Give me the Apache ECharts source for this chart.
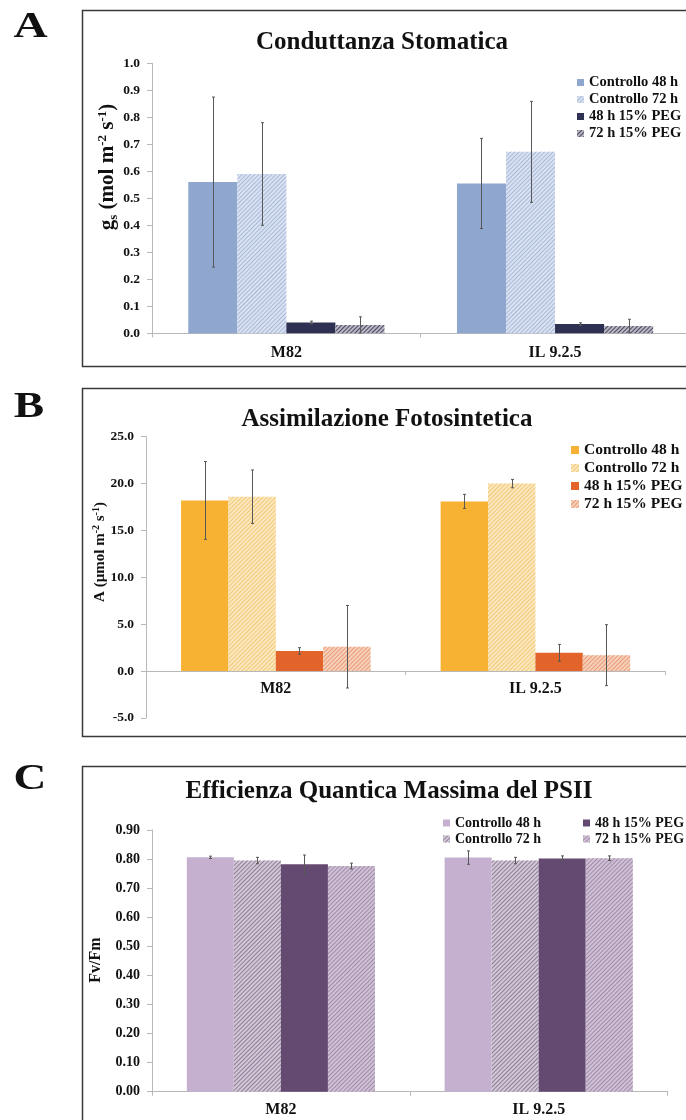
<!DOCTYPE html>
<html>
<head>
<meta charset="utf-8">
<script src="https://cdn.jsdelivr.net/npm/echarts@6/dist/echarts.min.js"></script>
<style>
  html, body { margin: 0; padding: 0; background: #fff; }
  #chart { width: 686px; height: 1120px; }
</style>
</head>
<body>
<div id="chart"></div>
<script>
// Genotypes and treatments shared by the three panels
const categories = ['M82', 'IL 9.2.5'];
const seriesNames = ['Controllo 48 h', 'Controllo 72 h', '48 h 15% PEG', '72 h 15% PEG'];

// A - Conduttanza stomatica, gs (mol m-2 s-1): one row per treatment, one value per genotype
const gsMean = [[0.560, 0.555], [0.590, 0.672], [0.040, 0.034], [0.031, 0.027]];
const gsErr  = [[0.315, 0.167], [0.190, 0.187], [0.005, 0.005], [0.030, 0.025]];
const gsAxis = [0, 1.0, 0.1];          // min, max, interval

// B - Assimilazione fotosintetica, A (µmol m-2 s-1)
const aMean = [[18.2, 18.1], [18.6, 20.0], [2.15, 1.95], [2.6, 1.7]];
const aErr  = [[4.15, 0.75], [2.85, 0.45], [0.35, 0.90], [4.40, 3.25]];
const aAxis = [-5, 25, 5];

// C - Efficienza quantica massima del PSII, Fv/Fm
const fvMean = [[0.806, 0.805], [0.795, 0.795], [0.782, 0.802], [0.776, 0.803]];
const fvErr  = [[0.004, 0.023], [0.011, 0.011], [0.032, 0.009], [0.010, 0.008]];
const fvAxis = [0, 0.9, 0.1];

const SERIF = '"Liberation Serif", "Times New Roman", serif';
const INK = '#111';
const AXIS_GREY = '#b8b8b8';
const GAP = 0.27;

// fine diagonal hatching used for the 72 h bars
function hatch(stripe) {
  return {
    symbol: 'rect', symbolSize: 1,
    dashArrayX: [1, 0], dashArrayY: [1, 1.8],
    rotation: -Math.PI / 4, color: stripe
  };
}

const palettes = {
  gs: [
    { color: '#8FA6CF' },
    { color: '#DAE2F1', decal: hatch('#A8B9DA') },
    { color: '#2F3152' },
    { color: '#B9B7C4', decal: hatch('#4A4A60') }
  ],
  a: [
    { color: '#F7B234' },
    { color: '#FBE8BE', decal: hatch('#F2C878') },
    { color: '#E2642B' },
    { color: '#F6D0BA', decal: hatch('#EA9C76') }
  ],
  fv: [
    { color: '#C5B1CF' },
    { color: '#D2C7D7', decal: hatch('#8F7F97') },
    { color: '#644A71' },
    { color: '#CFC0D5', decal: hatch('#A28CAA') }
  ]
};

// error bar drawn at the centre of bar k inside its category band
function errRenderer(k) {
  return function (params, api) {
    const i = api.value(0), v = api.value(1), e = api.value(2);
    const c = api.coord([i, v]);
    const band = api.size([1, 0])[0];
    const bw = band * (1 - GAP) / 4;
    const x = Math.round(c[0] + (k - 1.5) * bw) + 0.5;
    const y1 = api.coord([i, v + e])[1];
    const y2 = api.coord([i, v - e])[1];
    const cap = 1.5;
    const st = { stroke: '#585858', lineWidth: 1 };
    return {
      type: 'group',
      children: [
        { type: 'line', shape: { x1: x, y1: y1, x2: x, y2: y2 }, style: st },
        { type: 'line', shape: { x1: x - cap, y1: y1, x2: x + cap, y2: y1 }, style: st },
        { type: 'line', shape: { x1: x - cap, y1: y2, x2: x + cap, y2: y2 }, style: st }
      ]
    };
  };
}

function panelSeries(idx, key, means, errs) {
  const out = [];
  seriesNames.forEach(function (n, k) {
    out.push({
      type: 'bar', name: key + '|' + n,
      xAxisIndex: idx, yAxisIndex: idx,
      data: means[k],
      barGap: '0%', barCategoryGap: (GAP * 100) + '%',
      itemStyle: palettes[key][k],
      emphasis: { disabled: true },
      z: 2
    });
  });
  seriesNames.forEach(function (n, k) {
    out.push({
      type: 'custom',
      xAxisIndex: idx, yAxisIndex: idx,
      data: categories.map(function (c, i) { return [i, means[k][i], errs[k][i]]; }),
      encode: { x: 0, y: 1 },
      renderItem: errRenderer(k),
      silent: true, z: 5
    });
  });
  return out;
}

// the category axis sits on the value 0 of its grid
function xAxisFor(idx, margin, range, gridHeight) {
  const lift = gridHeight * (0 - range[0]) / (range[1] - range[0]);
  return {
    type: 'category', gridIndex: idx, data: categories,
    offset: -lift,
    axisLine: { show: true, onZero: false, lineStyle: { color: AXIS_GREY, width: 1 } },
    axisTick: { show: true, length: 4, lineStyle: { color: AXIS_GREY } },
    axisLabel: { margin: margin, fontFamily: SERIF, fontWeight: 'bold', fontSize: 16, color: INK },
    splitLine: { show: false }
  };
}

function yAxisFor(idx, range, digits, fs) {
  return {
    type: 'value', gridIndex: idx,
    min: range[0], max: range[1], interval: range[2],
    axisLine: { show: true, lineStyle: { color: AXIS_GREY, width: 1 } },
    axisTick: { show: true, length: 5, lineStyle: { color: AXIS_GREY } },
    axisLabel: {
      margin: 12, fontFamily: SERIF, fontWeight: 'bold', fontSize: fs, color: INK,
      formatter: function (v) { return v.toFixed(digits); }
    },
    splitLine: { show: false }
  };
}

function legendFor(names, left, top, fs, icon, lh) {
  return {
    data: names, orient: 'vertical', left: left, top: top, padding: 0,
    itemWidth: icon, itemHeight: icon, itemGap: 2, icon: 'rect',
    selectedMode: false,
    formatter: function (n) { return n.split('|')[1]; },
    textStyle: { fontFamily: SERIF, fontWeight: 'bold', fontSize: fs, color: INK, lineHeight: lh }
  };
}

function label(text, x, y, size, stretch) {
  return {
    type: 'text', x: x, y: y, silent: true, scaleX: stretch || 1,
    style: {
      text: text, fill: INK, font: 'bold ' + size + 'px ' + SERIF,
      textAlign: 'center', textVerticalAlign: 'middle', align: 'center', verticalAlign: 'middle'
    }
  };
}

function frame(y, h) {
  return {
    type: 'rect', silent: true,
    shape: { x: 82.5, y: y + 0.5, width: 700, height: h },
    style: { fill: 'none', stroke: '#3a3a3a', lineWidth: 1.5 }
  };
}

function unitRich(main, small) {
  const base = { fontFamily: SERIF, fontWeight: 'bold', fill: INK, color: INK };
  return {
    b: Object.assign({ fontSize: main, lineHeight: main + 3 }, base),
    sup: Object.assign({ fontSize: small, lineHeight: small, verticalAlign: 'top' }, base),
    sub: Object.assign({ fontSize: small, lineHeight: small, verticalAlign: 'bottom' }, base)
  };
}

function axisTitle(text, x, y, main, small) {
  return {
    type: 'text', x: x, y: y, rotation: Math.PI / 2, silent: true,
    style: {
      text: text, rich: unitRich(main, small),
      textAlign: 'center', textVerticalAlign: 'middle', align: 'center', verticalAlign: 'middle'
    }
  };
}

const grids = [
  { left: 152, top: 63.3, width: 537.4, height: 270, outerBoundsMode: 'none' },
  { left: 146, top: 436.7, width: 519.2, height: 281.3, outerBoundsMode: 'none' },
  { left: 152, top: 830, width: 515.6, height: 261.7, outerBoundsMode: 'none' }
];

const chart = echarts.init(document.getElementById('chart'), null, { renderer: 'canvas' });

chart.setOption({
  backgroundColor: '#ffffff',
  animation: false,
  grid: grids,
  xAxis: [
    xAxisFor(0, 12, gsAxis, grids[0].height),
    xAxisFor(1, 10, aAxis, grids[1].height),
    xAxisFor(2, 10, fvAxis, grids[2].height)
  ],
  yAxis: [yAxisFor(0, gsAxis, 1, 13.5), yAxisFor(1, aAxis, 1, 13.5), yAxisFor(2, fvAxis, 2, 14)],
  legend: [
    legendFor(seriesNames.map(function (n) { return 'gs|' + n; }), 577, 75, 14.5, 7, 14),
    legendFor(seriesNames.map(function (n) { return 'a|' + n; }), 571, 442, 15.5, 8, 15),
    legendFor(['fv|' + seriesNames[0], 'fv|' + seriesNames[1]], 443, 816, 14, 7, 14),
    legendFor(['fv|' + seriesNames[2], 'fv|' + seriesNames[3]], 583, 816, 14, 7, 14)
  ],
  graphic: [
    frame(10, 356),
    frame(388, 348),
    frame(766, 400),
    label('A', 30.5, 28, 35, 1.35),
    label('B', 29, 408, 35, 1.3),
    label('C', 30, 780, 35, 1.3),
    label('Conduttanza Stomatica', 382, 43, 25),
    label('Assimilazione Fotosintetica', 387, 420, 25),
    label('Efficienza Quantica Massima del PSII', 389, 792, 25),
    axisTitle('{b|g}{sub|s}{b| (mol m}{sup|-2}{b| s}{sup|-1}{b|)}', 108, 167, 21, 13),
    axisTitle('{b|A (\u00b5mol m}{sup|-2}{b| s}{sup|-1}{b|)}', 100, 552, 15, 10),
    axisTitle('{b|Fv/Fm}', 96, 960, 16, 10)
  ],
  series: [].concat(
    panelSeries(0, 'gs', gsMean, gsErr),
    panelSeries(1, 'a', aMean, aErr),
    panelSeries(2, 'fv', fvMean, fvErr)
  )
});
</script>
</body>
</html>
